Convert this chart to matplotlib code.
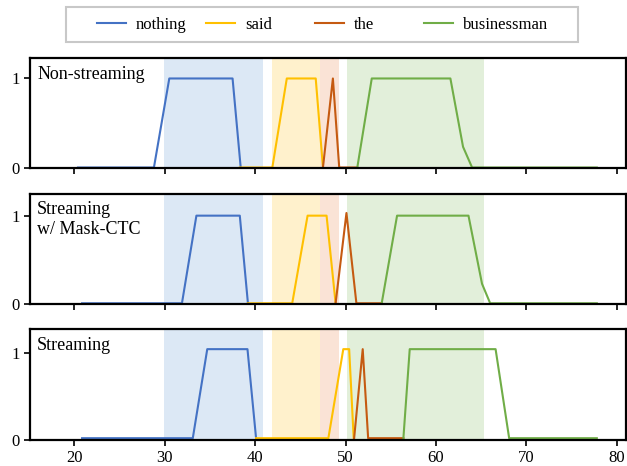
import matplotlib
matplotlib.use("Agg")
import matplotlib.pyplot as plt
from matplotlib.patches import Rectangle

plt.rcParams['font.family'] = ['Liberation Serif', 'DejaVu Serif']

# words and colours
words = ['nothing', 'said', 'the', 'businessman']
colors = ['#4472C4', '#FFC000', '#C55A11', '#70AD47']
span_colors = ['#DCE8F5', '#FFF1CC', '#FAE3D6', '#E2EFDA']

# ground-truth word segments (shaded spans)
span_start = [29.9, 41.9, 47.2, 50.2]
span_end = [40.85, 47.2, 49.3, 65.3]

panel_titles = ['Non-streaming', 'Streaming\nw/ Mask-CTC', 'Streaming']
panel_ytop = [1.23, 1.25, 1.28]

# Non-streaming
ns_nothing_x = [20.4, 28.8, 30.5, 37.5, 38.4]
ns_nothing_y = [0.01, 0.01, 1.0, 1.0, 0.01]
ns_said_x = [38.3, 41.9, 43.5, 46.7, 47.5]
ns_said_y = [0.01, 0.01, 1.0, 1.0, 0.01]
ns_the_x = [47.5, 48.6, 49.3, 51.3]
ns_the_y = [0.01, 1.0, 0.01, 0.01]
ns_biz_x = [51.3, 52.9, 61.6, 63.0, 64.0, 77.8]
ns_biz_y = [0.01, 1.0, 1.0, 0.24, 0.01, 0.01]

# Streaming w/ Mask-CTC
mc_nothing_x = [20.85, 31.9, 33.5, 38.3, 39.2]
mc_nothing_y = [0.01, 0.01, 1.0, 1.0, 0.01]
mc_said_x = [39.2, 44.1, 45.8, 47.9, 48.9]
mc_said_y = [0.01, 0.01, 1.0, 1.0, 0.01]
mc_the_x = [48.9, 50.1, 51.2, 54.0]
mc_the_y = [0.01, 1.03, 0.01, 0.01]
mc_biz_x = [54.0, 55.7, 63.6, 65.1, 66.0, 77.8]
mc_biz_y = [0.01, 1.0, 1.0, 0.23, 0.01, 0.01]

# Streaming
st_nothing_x = [20.85, 33.1, 34.7, 39.15, 40.1]
st_nothing_y = [0.02, 0.02, 1.05, 1.05, 0.02]
st_said_x = [40.1, 48.1, 49.75, 50.4, 50.9]
st_said_y = [0.02, 0.02, 1.05, 1.05, 0.02]
st_the_x = [50.95, 51.9, 52.5, 56.4]
st_the_y = [0.02, 1.05, 0.02, 0.02]
st_biz_x = [56.4, 57.1, 66.6, 68.1, 77.8]
st_biz_y = [0.02, 1.05, 1.05, 0.02, 0.02]

panels = [
    [(ns_nothing_x, ns_nothing_y), (ns_said_x, ns_said_y), (ns_the_x, ns_the_y), (ns_biz_x, ns_biz_y)],
    [(mc_nothing_x, mc_nothing_y), (mc_said_x, mc_said_y), (mc_the_x, mc_the_y), (mc_biz_x, mc_biz_y)],
    [(st_nothing_x, st_nothing_y), (st_said_x, st_said_y), (st_the_x, st_the_y), (st_biz_x, st_biz_y)],
]

fig, axes = plt.subplots(3, 1, figsize=(6.27, 4.66), dpi=100, sharex=True)
fig.subplots_adjust(left=0.048, right=0.998, bottom=0.056, top=0.876, hspace=0.227)

for ax, series, title, ytop in zip(axes, panels, panel_titles, panel_ytop):
    for s0, s1, c in zip(span_start, span_end, span_colors):
        ax.axvspan(s0, s1, color=c, lw=0)
    for (xs, ys), c, w in zip(series, colors, words):
        ax.plot(xs, ys, color=c, lw=1.5, label=w)
    ax.set_xlim(15.1, 81.0)
    ax.set_ylim(0, ytop)
    ax.set_yticks([0, 1])
    ax.set_xticks([20, 30, 40, 50, 60, 70, 80])
    ax.tick_params(labelsize=12, length=4, width=1.2)
    for sp in ax.spines.values():
        sp.set_linewidth(1.6)
    ax.text(0.012, 0.93, title, transform=ax.transAxes, fontsize=13,
            va='top', ha='left')

# legend: evenly spaced entries inside a grey frame
handles, labels = axes[0].get_legend_handles_labels()
fig.patches.append(Rectangle((0.1053, 0.9099), 0.8166, 0.0751, transform=fig.transFigure,
                             facecolor='white', edgecolor='#c8c8c8', lw=1.5, zorder=0))
leg_x = [0.1547, 0.3285, 0.5024, 0.6762]
for h, l, lx in zip(handles, labels, leg_x):
    leg = fig.legend([h], [l], loc='center left', bbox_to_anchor=(lx, 0.947),
                     frameon=False, fontsize=12, handlelength=1.75,
                     handletextpad=0.6, borderpad=0, borderaxespad=0)

fig.savefig('out.png', dpi=100)
